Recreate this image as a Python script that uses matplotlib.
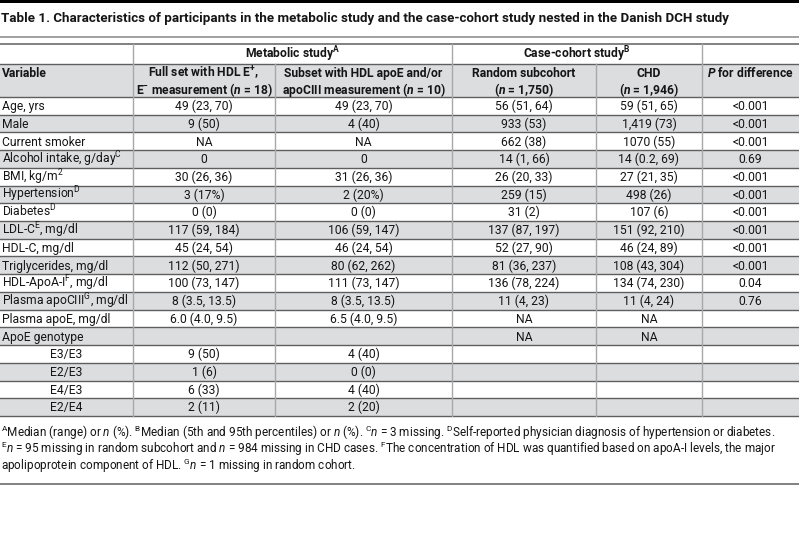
import matplotlib.pyplot as plt
from matplotlib.patches import Rectangle

plt.rcParams["font.family"] = ["Roboto", "DejaVu Sans"]
plt.rcParams["mathtext.fontset"] = "custom"
plt.rcParams["mathtext.rm"] = "Roboto"
plt.rcParams["mathtext.it"] = "Roboto:italic"
plt.rcParams["mathtext.bf"] = "Roboto:bold"
plt.rcParams["mathtext.bfit"] = "Roboto:bold:italic"

# Table contents
title = ("Table 1. Characteristics of participants in the metabolic study and the "
         "case-cohort study nested in the Danish DCH study")

group_headers = ["Metabolic study$^{\\mathbf{A}}$", "Case-cohort study$^{\\mathbf{B}}$"]
col_headers = [
    ["Variable"],
    ["Full set with HDL E$^{\\mathbf{+}}$,", "E$^{\\mathbf{-}}$ measurement ($\\mathbfit{n}$ = 18)"],
    ["Subset with HDL apoE and/or", "apoCIII measurement ($\\mathbfit{n}$ = 10)"],
    ["Random subcohort", "($\\mathbfit{n}$ = 1,750)"],
    ["CHD", "($\\mathbfit{n}$ = 1,946)"],
    ["$\\mathbfit{P}$ for difference"],
]

variables = [
    "Age, yrs", "Male", "Current smoker", "Alcohol intake, g/day$^{\\mathrm{C}}$",
    "BMI, kg/m$^{2}$", "Hypertension$^{\\mathrm{D}}$", "Diabetes$^{\\mathrm{D}}$",
    "LDL-C$^{\\mathrm{E}}$, mg/dl", "HDL-C, mg/dl", "Triglycerides, mg/dl",
    "HDL-ApoA-I$^{\\mathrm{F}}$, mg/dl", "Plasma apoCIII$^{\\mathrm{G}}$, mg/dl",
    "Plasma apoE, mg/dl", "ApoE genotype", "E3/E3", "E2/E3", "E4/E3", "E2/E4",
]
indented = ["E3/E3", "E2/E3", "E4/E3", "E2/E4"]

full_set = ["49 (23, 70)", "9 (50)", "NA", "0", "30 (26, 36)", "3 (17%)", "0 (0)",
            "117 (59, 184)", "45 (24, 54)", "112 (50, 271)", "100 (73, 147)",
            "8 (3.5, 13.5)", "6.0 (4.0, 9.5)", "", "9 (50)", "1 (6)", "6 (33)", "2 (11)"]
subset = ["49 (23, 70)", "4 (40)", "NA", "0", "31 (26, 36)", "2 (20%)", "0 (0)",
          "106 (59, 147)", "46 (24, 54)", "80 (62, 262)", "111 (73, 147)",
          "8 (3.5, 13.5)", "6.5 (4.0, 9.5)", "", "4 (40)", "0 (0)", "4 (40)", "2 (20)"]
random_sub = ["56 (51, 64)", "933 (53)", "662 (38)", "14 (1, 66)", "26 (20, 33)",
              "259 (15)", "31 (2)", "137 (87, 197)", "52 (27, 90)", "81 (36, 237)",
              "136 (78, 224)", "11 (4, 23)", "NA", "NA", "", "", "", ""]
chd = ["59 (51, 65)", "1,419 (73)", "1070 (55)", "14 (0.2, 69)", "27 (21, 35)",
       "498 (26)", "107 (6)", "151 (92, 210)", "46 (24, 89)", "108 (43, 304)",
       "134 (74, 230)", "11 (4, 24)", "NA", "NA", "", "", "", ""]
p_diff = ["<0.001", "<0.001", "<0.001", "0.69", "<0.001", "<0.001", "<0.001",
          "<0.001", "<0.001", "<0.001", "0.04", "0.76", "", "", "", "", "", ""]

footnotes = [
    "$^{\\mathrm{A}}$Median (range) or $\\mathit{n}$ (%). $^{\\mathrm{B}}$Median (5th and 95th "
    "percentiles) or $\\mathit{n}$ (%). $^{\\mathrm{C}}\\mathit{n}$ = 3 missing. "
    "$^{\\mathrm{D}}$Self-reported physician diagnosis of hypertension or diabetes.",
    "$^{\\mathrm{E}}\\mathit{n}$ = 95 missing in random subcohort and $\\mathit{n}$ = 984 missing "
    "in CHD cases. $^{\\mathrm{F}}$The concentration of HDL was quantified based on apoA-I "
    "levels, the major",
    "apolipoprotein component of HDL. $^{\\mathrm{G}}\\mathit{n}$ = 1 missing in random cohort.",
]

# Layout (pixels)
W, H = 799, 548
col_edges = [0, 133, 275, 452, 596, 702, 799]
group_spans = [(133, 452), (452, 702)]
top_y, head1_y, head2_y = 44, 64, 97
row_h = 17.72
shade = "#dcdddf"
text_c = "#151515"
line_dark = "#5e5e5e"
line_light = "#a8a8a8"
fs = 8.75
base = 4.3  # baseline offset below row centre, px

fig = plt.figure(figsize=(W / 100, H / 100), dpi=100)
ax = fig.add_axes([0, 0, 1, 1])
ax.set_xlim(0, W)
ax.set_ylim(H, 0)
ax.axis("off")

# top bar and title
ax.add_patch(Rectangle((0, 0), W, 3.3, color="black", lw=0))
ax.text(1, 22, title, fontsize=9.6, fontweight="bold", va="baseline", ha="left", color=text_c)
ax.plot([0, W], [37, 37], color="#9a9a9a", lw=1.3)

# header backgrounds
ax.add_patch(Rectangle((0, head1_y), W, head2_y - head1_y, color=shade, lw=0))
rows_bottom = head2_y + row_h * len(variables)
for i in range(len(variables)):
    if i % 2 == 1:
        ax.add_patch(Rectangle((0, head2_y + i * row_h), W, row_h, color=shade, lw=0))

# group header row
for (x0, x1), label in zip(group_spans, group_headers):
    ax.text((x0 + x1) / 2, 54 + base, label, fontsize=fs, fontweight="bold",
            ha="center", va="baseline", color=text_c)

# column header row
centers = [(a + b) / 2 for a, b in zip(col_edges[:-1], col_edges[1:])]
for j, lines in enumerate(col_headers):
    for k, line in enumerate(lines):
        x = 2 if j == 0 else centers[j]
        ax.text(x, 73 + base + k * 17, line, fontsize=fs, fontweight="bold",
                ha="left" if j == 0 else "center", va="baseline", color=text_c)

# body
columns = [full_set, subset, random_sub, chd, p_diff]
for i, var in enumerate(variables):
    yb = head2_y + (i + 0.5) * row_h + base
    if var in indented:
        ax.text(centers[0], yb, var, fontsize=fs, ha="center", va="baseline", color=text_c)
    else:
        ax.text(2, yb, var, fontsize=fs, ha="left", va="baseline", color=text_c)
    for j, col in enumerate(columns):
        ax.text(centers[j + 1], yb, col[i], fontsize=fs, ha="center", va="baseline", color=text_c)

# horizontal rules
ax.plot([0, W], [top_y, top_y], color=line_dark, lw=1.1)
ax.plot([0, W], [head1_y, head1_y], color=line_dark, lw=1.0)
for i in range(len(variables) + 1):
    y = head2_y + i * row_h
    ax.plot([0, W], [y, y], color=line_dark, lw=1.0)

# vertical rules
for x in [133, 452, 702]:
    ax.plot([x, x], [top_y, head1_y], color=line_light, lw=1.0)
for x in col_edges[1:-1]:
    ax.plot([x, x], [head1_y, rows_bottom], color=line_light, lw=1.0)

# footnotes
for k, note in enumerate(footnotes):
    ax.text(1, 437 + k * 16.5, note, fontsize=8.5, ha="left", va="baseline", color=text_c)
ax.plot([0, W], [484, 484], color=line_dark, lw=1.1)

fig.savefig("out.png", dpi=100)
